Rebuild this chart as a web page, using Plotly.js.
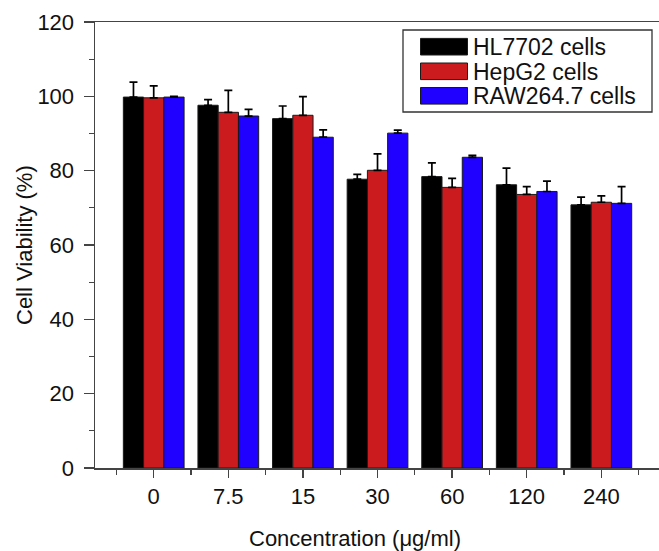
<!DOCTYPE html>
<html>
<head>
<meta charset="utf-8">
<script src="https://cdn.plot.ly/plotly-3.0.1.min.js"></script>
<style>html,body{margin:0;padding:0;background:#fff;overflow:hidden}#chart{width:659px;height:551px}</style>
</head>
<body>
<div id="chart"></div>
<script>
const categories = ["0", "7.5", "15", "30", "60", "120", "240"];
const seriesNames = ["HL7702 cells", "HepG2 cells", "RAW264.7 cells"];
const hl7702 = [99.8, 97.6, 94.0, 77.7, 78.4, 76.2, 70.8];
const hl7702Err = [4.0, 1.5, 3.4, 1.3, 3.7, 4.5, 2.1];
const hepg2 = [99.6, 95.7, 94.9, 80.1, 75.5, 73.6, 71.5];
const hepg2Err = [3.2, 5.9, 5.0, 4.4, 2.4, 2.1, 1.7];
const raw264 = [99.8, 94.7, 89.0, 90.1, 83.6, 74.4, 71.2];
const raw264Err = [0.2, 1.8, 2.0, 0.8, 0.5, 2.8, 4.5];
const colors = ["#000000", "#cc1b1f", "#2000ff"];

const FONT = "Liberation Sans, Arial, sans-serif";
const W = 659, H = 551;
const M = {l: 95, r: 0, t: 22, b: 83};
const plotW = W - M.l - M.r, plotH = H - M.t - M.b;
const px2x = p => (p - M.l) / plotW;       // pixel -> paper x
const py2y = p => (H - M.b - p) / plotH;   // pixel -> paper y

const xs = categories.map((_, i) => i);
const values = [hl7702, hepg2, raw264];
const errs = [hl7702Err, hepg2Err, raw264Err];

const traces = values.map((v, k) => ({
  type: "bar", name: seriesNames[k], x: xs, y: v,
  marker: {color: colors[k], line: {color: "#1a1a1a", width: 1}},
  error_y: {type: "data", symmetric: false, array: errs[k], arrayminus: v.map(() => 0),
            color: "#000", thickness: 1.7, width: 4},
  showlegend: false, hoverinfo: "x+y"
}));

// legend box drawn as layout decoration
const shapes = [{
  type: "rect", xref: "paper", yref: "paper",
  x0: px2x(403), x1: px2x(652), y0: py2y(112), y1: py2y(30),
  line: {color: "#333", width: 1.3}, fillcolor: "#fff", layer: "above"
}];
const annotations = [];
const rowCenters = [46.7, 71.3, 95.8];
seriesNames.forEach((name, k) => {
  const cy = rowCenters[k];
  shapes.push({
    type: "rect", xref: "paper", yref: "paper",
    x0: px2x(420.5), x1: px2x(467.5), y0: py2y(cy + 8.3), y1: py2y(cy - 8.3),
    line: {color: "#1a1a1a", width: 1}, fillcolor: colors[k], layer: "above"
  });
  annotations.push({
    text: name, xref: "paper", yref: "paper", x: px2x(471), y: py2y(cy + 0.5),
    xanchor: "left", yanchor: "middle", showarrow: false,
    font: {family: FONT, size: 23, color: "#111"}
  });
});
annotations.push({
  text: "Concentration (μg/ml)", xref: "paper", yref: "paper",
  x: px2x(355), y: py2y(538), xanchor: "center", yanchor: "middle", showarrow: false,
  font: {family: FONT, size: 22, color: "#111"}
});
annotations.push({
  text: "Cell Viability (%)", xref: "paper", yref: "paper", textangle: -90,
  x: px2x(24), y: py2y(245), xanchor: "center", yanchor: "middle", showarrow: false,
  font: {family: FONT, size: 22, color: "#111"}
});

const layout = {
  width: W, height: H, margin: M,
  paper_bgcolor: "#fff", plot_bgcolor: "#fff",
  font: {family: FONT, size: 22, color: "#111"},
  barmode: "group", bargap: 0.186, bargroupgap: 0,
  showlegend: false,
  xaxis: {
    range: [-0.787, 6.773], tickmode: "array", tickvals: xs, ticktext: categories,
    ticks: "outside", ticklen: 8, tickwidth: 1.3, tickcolor: "#444",
    minor: {tick0: 0.5, dtick: 1, ticks: "outside", ticklen: 5, tickwidth: 1.3, tickcolor: "#444"},
    showline: true, linecolor: "#444", linewidth: 1.5, mirror: true,
    showgrid: false, zeroline: false, fixedrange: true,
    tickfont: {family: FONT, size: 22, color: "#111"}
  },
  yaxis: {
    range: [0, 120], dtick: 20, tick0: 0,
    ticks: "outside", ticklen: 10, tickwidth: 1.3, tickcolor: "#444",
    minor: {dtick: 10, ticks: "outside", ticklen: 5, tickwidth: 1.3, tickcolor: "#444"},
    showline: true, linecolor: "#444", linewidth: 1.5, mirror: false,
    showgrid: false, zeroline: false, fixedrange: true,
    ticklabelstandoff: 5,
    tickfont: {family: FONT, size: 22, color: "#111"}
  },
  shapes: shapes,
  annotations: annotations
};

Plotly.newPlot("chart", traces, layout, {staticPlot: true, displayModeBar: false});
</script>
</body>
</html>
